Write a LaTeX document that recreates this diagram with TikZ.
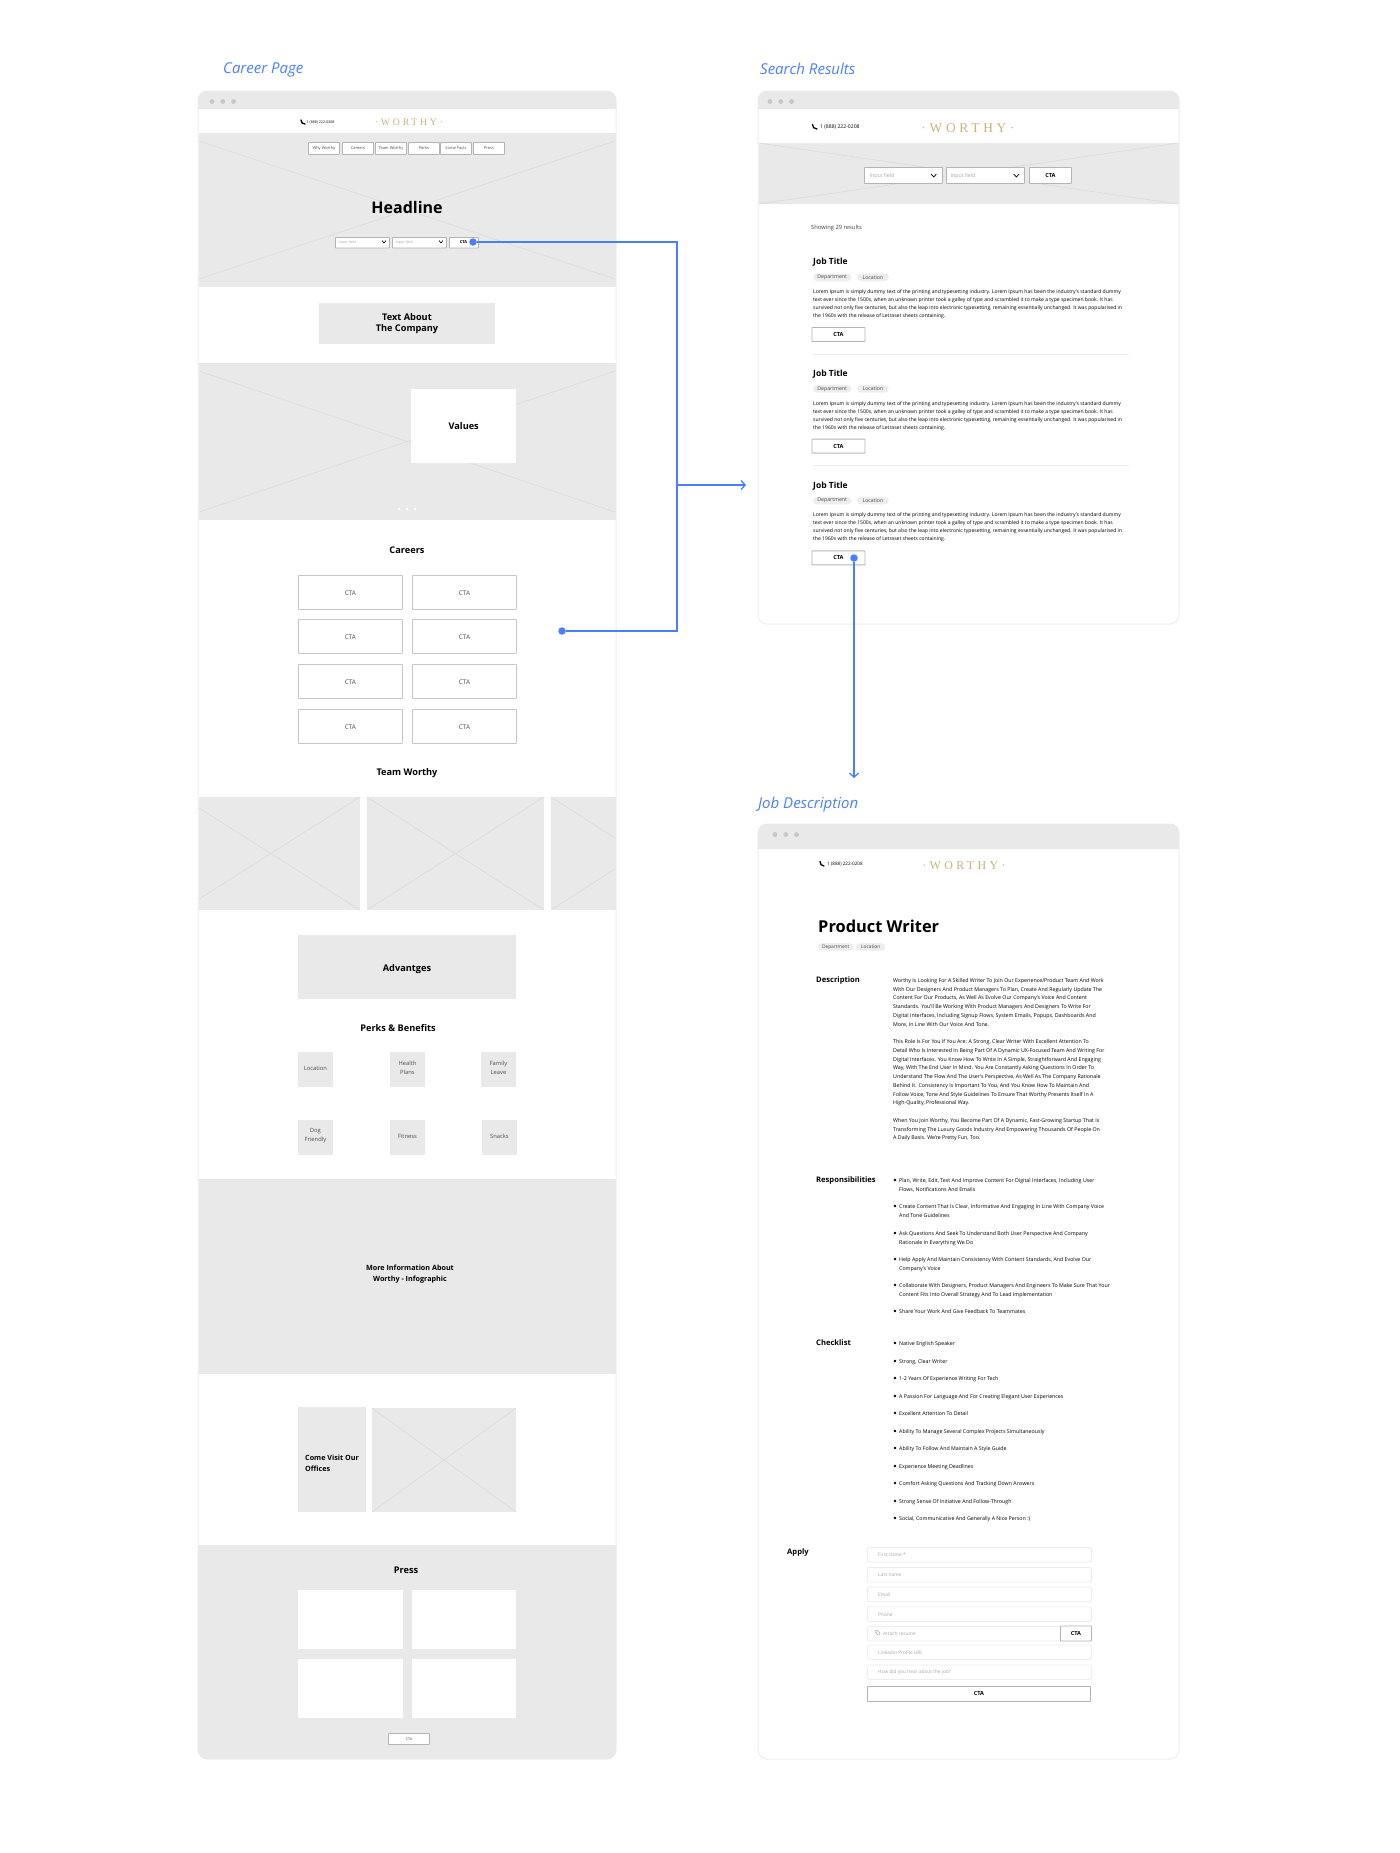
\documentclass[tikz,border=0pt]{standalone}
\usepackage{fontspec}
\usepackage{xcolor}
\usetikzlibrary{arrows.meta}
\setmainfont{Open Sans}
\newfontfamily\logofont[LetterSpace=28]{Liberation Serif}
\definecolor{bargrey}{HTML}{E9E9E9}
\definecolor{linegrey}{HTML}{D9D9D9}
\definecolor{edgegrey}{HTML}{EDEDED}
\definecolor{boxline}{HTML}{B4B4B4}
\definecolor{dotgrey}{HTML}{C6C6C6}
\definecolor{wireblue}{HTML}{4A7DFF}
\definecolor{logogold}{HTML}{C9B27F}
\newcommand{\fsz}[2]{\fontsize{#1}{#2}\selectfont}
\newcommand{\loremtext}{Lorem Ipsum is simply dummy text of the printing and typesetting industry. Lorem Ipsum has been the industry's standard dummy\\
text ever since the 1500s, when an unknown printer took a galley of type and scrambled it to make a type specimen book. It has\\
survived not only five centuries, but also the leap into electronic typesetting, remaining essentially unchanged. It was popularised in\\
the 1960s with the release of Letraset sheets containing.}
\tikzstyle{pagelabel} = [text=wireblue, font=\itshape\fsz{15}{18}, anchor=west, inner sep=0pt]
\tikzstyle{logotext} = [text=logogold, font=\logofont, inner sep=0pt]
\tikzstyle{phonetext} = [font=\fsz{5.1}{6}, anchor=west, inner sep=0pt]
\tikzstyle{greybox} = [fill=bargrey, anchor=north west, inner sep=0pt, align=center]
\tikzstyle{whitebox} = [fill=white, anchor=north west, inner sep=0pt, align=center]
\tikzstyle{outlinebox} = [draw=boxline, fill=white, line width=0.9pt, anchor=north west, inner sep=0pt, rounded corners=0.6pt]
\tikzstyle{fieldbox} = [draw=edgegrey, fill=white, line width=0.9pt, anchor=north west, inner sep=0pt, rounded corners=1.5pt]
\tikzstyle{chip} = [fill=edgegrey, rounded corners=3.5pt, inner sep=0pt, minimum height=7.5pt, anchor=north west, text=black!70, font=\fsz{5.2}{6}]
\tikzstyle{sectitle} = [font=\bfseries\fsz{9.2}{10.8}, align=center, inner sep=0pt]
\tikzstyle{leftitle} = [font=\bfseries\fsz{7.6}{9}, anchor=west, inner sep=0pt]
\tikzstyle{bodytext} = [font=\fsz{5.05}{8}, anchor=north west, align=left, inner sep=0pt]
\tikzstyle{longtext} = [font=\fsz{5.28}{8.75}, anchor=north west, align=left, inner sep=0pt]
\tikzstyle{hint} = [text=black!35, font=\fsz{4.8}{6}, inner sep=0pt]
\tikzstyle{ctatext} = [font=\bfseries\fsz{5.6}{6}]
\tikzstyle{softtext} = [text=black!70, font=\fsz{5.8}{9.3}]
\tikzstyle{crossline} = [draw=linegrey, line width=0.55pt]
\tikzstyle{bulletdot} = [fill=black, circle, inner sep=0pt, minimum size=2.6pt]
\tikzstyle{wire} = [draw=wireblue, line width=1.3pt]
\tikzstyle{wiredot} = [fill=wireblue, circle, inner sep=0pt, minimum size=7.5pt]

\begin{document}
\begin{tikzpicture}[x=1pt, y=-1pt]
\useasboundingbox (0,0) rectangle (1400,1853);

\node [pagelabel] (careerLabel) at (223,70) {Career Page};
\node [pagelabel] (searchLabel) at (760,69) {Search Results};
\node [pagelabel] (jobLabel) at (758,805) {Job Description};

\foreach \lft/\tp/\rgt/\btm/\hd/\dx in {198/91/616/1759/109/212, 758/91/1179/624/109/770, 758/824/1179/1759/849/775}{
    \draw [edgegrey, fill=white, line width=1pt, rounded corners=9pt] (\lft,\tp) rectangle (\rgt,\btm);
    \fill [bargrey] (\lft,\hd) [rounded corners=9pt] -- (\lft,\tp) -- (\rgt,\tp) [sharp corners] -- (\rgt,\hd) -- cycle;
    \foreach \i in {0,1,2}
        \fill [dotgrey] (\dx+\i*10.8,\tp+10.5) circle (2.4pt);
}

% career page
\fill [bargrey] (198.5,133) rectangle (615.5,287);
\fill [bargrey] (198.5,363) rectangle (615.5,520);
\fill [bargrey] (198.5,1179) rectangle (615.5,1374);
\fill [bargrey] (198,1545) -- (616,1545) [rounded corners=9pt] -- (616,1759) -- (198,1759) [sharp corners] -- cycle;
\fill [bargrey] (758.5,143) rectangle (1178.5,204);
\foreach \xa/\ya/\xb/\yb in {199/141/615/279, 199/279/615/141, 199/371/615/512, 199/512/615/371, 758.5/143/1178.5/204, 758.5/204/1178.5/143}
    \draw [crossline] (\xa,\ya) -- (\xb,\yb);

\draw [line width=1.3pt, line cap=round] (301,120) .. controls (301,122.5) and (302.5,124) .. (305,124);
\node [phonetext, font=\fsz{3.6}{4}] (careerPhone) at (306.5,122) {1 (888) 222-0208};
\node [logotext, font=\logofont\fsz{9.8}{10}] (careerLogo) at (409,122.3) {·WORTHY·};

\foreach \nm/\xx/\lbl in {a/308/Why Worthy, b/342/Careers, c/375/Team Worthy, d/408/Perks, e/440/Some Facts, f/473/Press}{
    \node [outlinebox, minimum width=31pt, minimum height=12pt] (nav\nm) at (\xx,142) {};
    \node [softtext, font=\fsz{4}{5}, inner sep=0pt] (navText\nm) at (nav\nm.center) {\lbl};
}

\node [font=\bfseries\fsz{16}{18}, inner sep=0pt] (headline) at (407,207) {Headline};
\node [outlinebox, minimum width=54pt, minimum height=10.5pt] (heroInputA) at (335,237) {};
\node [outlinebox, minimum width=54pt, minimum height=10.5pt] (heroInputB) at (392,237) {};
\node [outlinebox, minimum width=29pt, minimum height=10.5pt] (heroCta) at (449,237) {};
\node [hint, font=\fsz{3.6}{4}, right=3.5pt] (heroHintA) at (heroInputA.west) {Input field};
\node [hint, font=\fsz{3.6}{4}, right=3.5pt] (heroHintB) at (heroInputB.west) {Input field};
\node [ctatext, font=\bfseries\fsz{4}{5}, inner sep=0pt] (heroCtaText) at (463.5,241.8) {CTA};
\draw [line width=0.6pt] (382,240.5) -- (384,243) -- (386,240.5);
\draw [line width=0.6pt] (439,240.5) -- (441,243) -- (443,240.5);

\node [greybox, minimum width=176pt, minimum height=40.5pt] (textBox) at (319,303) {};
\node [sectitle] (textBoxText) at (407,324) {Text About\\The Company};
\node [whitebox, sectitle, anchor=north west, minimum width=105pt, minimum height=74pt] (valuesBox) at (411,389) {Values};
\foreach \xx in {399,407,415}
    \fill [white] (\xx,509) circle (1.5pt);

\node [sectitle] (careersTitle) at (407,550) {Careers};
\foreach \rr/\yy in {a/575,b/619,c/664,d/709}{
    \foreach \cc/\xx in {l/298,r/412}{
        \node [outlinebox, draw=black!22, softtext, font=\fsz{6.4}{7}, text height=6.5pt, text depth=0pt, anchor=north west, minimum width=104pt, minimum height=34pt] (career\rr\cc) at (\xx,\yy) {CTA};
    }
}

\node [sectitle] (teamTitle) at (407,773) {Team Worthy};
\fill [bargrey] (198.5,797) rectangle (360,910);
\fill [bargrey] (367,797) rectangle (544,910);
\fill [bargrey] (551,797) rectangle (615.5,910);
\fill [bargrey] (372,1408) rectangle (516,1512);
\foreach \xa/\ya/\xb/\yb in {199/808/360/910, 199/899/360/797, 367/797/544/910, 367/910/544/797, 551/797/615/838, 551/910/615/869, 372/1408/516/1512, 372/1512/516/1408}
    \draw [crossline] (\xa,\ya) -- (\xb,\yb);

\node [greybox, minimum width=218pt, minimum height=64pt] (advantgesBox) at (298,935) {};
\node [sectitle] (advantgesText) at (407,969) {Advantges};
\node [sectitle] (perksTitle) at (398,1028) {Perks \& Benefits};
\foreach \nm/\xx/\yy/\lbl in {a/298/1052/Location, b/390/1052/Health\\Plans, c/481/1052/Family\\Leave, d/298/1120/Dog\\Friendly, e/390/1120/Fitness, f/482/1120/Snacks}{
    \node [greybox, minimum size=34.5pt] (perk\nm) at (\xx,\yy) {};
    \node [softtext, align=center, inner sep=0pt] (perkText\nm) at ([yshift=1.5pt]perk\nm.center) {\lbl};
}

\node [sectitle, font=\bfseries\fsz{7.2}{10.3}] (infoText) at (410,1274) {More Information About\\Worthy - Infographic};
\node [greybox, minimum width=68pt, minimum height=105pt] (visitBox) at (298,1407) {};
\node [sectitle, font=\bfseries\fsz{7.2}{10.6}, align=left, anchor=west] (visitText) at (305,1463) {Come Visit Our\\Offices};

\node [sectitle] (pressTitle) at (406,1570) {Press};
\node [whitebox, minimum width=105pt, minimum height=58.5pt] (pressA) at (298,1590) {};
\node [whitebox, minimum width=104pt, minimum height=58.5pt] (pressB) at (412,1590) {};
\node [whitebox, minimum width=105pt, minimum height=58.5pt] (pressC) at (298,1659) {};
\node [whitebox, minimum width=104pt, minimum height=58.5pt] (pressD) at (412,1659) {};
\node [outlinebox, minimum width=41pt, minimum height=11pt] (pressCta) at (388,1733) {};
\node [softtext, font=\fsz{3.6}{4}, inner sep=0pt] (pressCtaText) at (pressCta.center) {CTA};

% search results
\draw [line width=1.3pt, line cap=round] (812.5,124.5) .. controls (812.5,127) and (814,129) .. (817,129);
\node [phonetext] (searchPhone) at (820,126.7) {1 (888) 222-0208};
\node [logotext, font=\logofont\fsz{13.4}{14}] (searchLogo) at (968,128) {·WORTHY·};
\node [outlinebox, minimum width=78pt, minimum height=16pt] (searchInputA) at (864,167) {};
\node [outlinebox, minimum width=78pt, minimum height=16pt] (searchInputB) at (946,167) {};
\node [outlinebox, ctatext, anchor=north west, minimum width=42pt, minimum height=16pt] (searchCta) at (1029,167) {CTA};
\node [hint, font=\fsz{5.2}{6}, right=5.5pt] (searchHintA) at ([yshift=-0.8pt]searchInputA.west) {Input field};
\node [hint, font=\fsz{5.2}{6}, right=4.5pt] (searchHintB) at ([yshift=-0.8pt]searchInputB.west) {Input field};
\draw [line width=0.7pt] (931,174) -- (933.7,177) -- (936.4,174);
\draw [line width=0.7pt] (1013.7,174) -- (1016.4,177) -- (1019,174);
\node [phonetext, font=\fsz{5.8}{7}, text=black!75] (showingText) at (811,228) {Showing 29 results};

\foreach \nm/\jy in {a/0, b/111.7, c/223.4}{
    \node [leftitle, font=\bfseries\fsz{8.5}{9}] (jobTitle\nm) at (813,262.3+\jy) {Job Title};
    \node [chip, minimum width=38pt] (jobDept\nm) at (813,273.3+\jy) {Department};
    \node [chip, minimum width=31.5pt] (jobLoc\nm) at (857,273.3+\jy) {Location};
    \node [bodytext] (jobText\nm) at (813,289.5+\jy) {\loremtext};
    \node [outlinebox, ctatext, anchor=north west, minimum width=53pt, minimum height=14pt] (jobCta\nm) at (811.5,327+\jy) {CTA};
}
\draw [edgegrey, line width=0.7pt] (813,354) -- (1129,354);
\draw [edgegrey, line width=0.7pt] (813,465.5) -- (1129,465.5);

% job description
\draw [line width=1.3pt, line cap=round] (820,861.5) .. controls (820,864) and (821.5,866) .. (824,866);
\node [phonetext, font=\fsz{4.6}{5}] (jobPhone) at (827,864.5) {1 (888) 222-0208};
\node [logotext, font=\logofont\fsz{12}{13}] (jobLogo) at (964,865.5) {·WORTHY·};
\node [font=\bfseries\fsz{16.4}{18}, anchor=west, inner sep=0pt] (productTitle) at (818,926.5) {Product Writer};
\node [chip, font=\fsz{4.8}{6}, minimum width=35pt] (productDept) at (818,943) {Department};
\node [chip, font=\fsz{4.8}{6}, minimum width=29pt] (productLoc) at (856,943) {Location};

\node [leftitle] (descTitle) at (816,980.5) {Description};
\node [longtext] (descText) at (893,978.2) {Worthy Is Looking For A Skilled Writer To Join Our Experience/Product Team And Work\\
With Our Designers And Product Managers To Plan, Create And Regularly Update The\\
Content For Our Products, As Well As Evolve Our Company's Voice And Content\\
Standards. You'll Be Working With Product Managers And Designers To Write For\\
Digital Interfaces, Including Signup Flows, System Emails, Popups, Dashboards And\\
More, In Line With Our Voice And Tone.\\[8.75pt]
This Role Is For You If You Are: A Strong, Clear Writer With Excellent Attention To\\
Detail Who Is Interested In Being Part Of A Dynamic UX-Focused Team And Writing For\\
Digital Interfaces. You Know How To Write In A Simple, Straightforward And Engaging\\
Way, With The End User In Mind. You Are Constantly Asking Questions In Order To\\
Understand The Flow And The User's Perspective, As Well As The Company Rationale\\
Behind It. Consistency Is Important To You, And You Know How To Maintain And\\
Follow Voice, Tone And Style Guidelines To Ensure That Worthy Presents Itself In A\\
High-Quality, Professional Way.\\[8.75pt]
When You Join Worthy, You Become Part Of A Dynamic, Fast-Growing Startup That Is\\
Transforming The Luxury Goods Industry And Empowering Thousands Of People On\\
A Daily Basis. We're Pretty Fun, Too.};

\node [leftitle] (respTitle) at (816,1180.5) {Responsibilities};
\foreach \yy/\lbl [count=\n] in {1180/{Plan, Write, Edit, Test And Improve Content For Digital Interfaces, Including User\\Flows, Notifications And Emails},
    1206/{Create Content That Is Clear, Informative And Engaging In Line With Company Voice\\And Tone Guidelines},
    1233/{Ask Questions And Seek To Understand Both User Perspective And Company\\Rationale In Everything We Do},
    1259/{Help Apply And Maintain Consistency With Content Standards, And Evolve Our\\Company's Voice},
    1285/{Collaborate With Designers, Product Managers And Engineers To Make Sure That Your\\Content Fits Into Overall Strategy And To Lead Implementation},
    1311/{Share Your Work And Give Feedback To Teammates}}{
    \node [bulletdot] (respDot\n) at (895,\yy) {};
    \node [longtext] (respText\n) at (899,\yy-1.8) {\lbl};
}

\node [leftitle] (checkTitle) at (816,1343) {Checklist};
\foreach \yy/\lbl [count=\n] in {1343/Native English Speaker, 1361/{Strong, Clear Writer}, 1378/1-2 Years Of Experience Writing For Tech, 1396/A Passion For Language And For Creating Elegant User Experiences, 1413/Excellent Attention To Detail, 1431/Ability To Manage Several Complex Projects Simultaneously, 1448/Ability To Follow And Maintain A Style Guide, 1466/Experience Meeting Deadlines, 1483/Comfort Asking Questions And Tracking Down Answers, 1501/Strong Sense Of Initiative And Follow-Through, 1518/{Social, Communicative And Generally A Nice Person :)}}{
    \node [bulletdot] (checkDot\n) at (895,\yy) {};
    \node [longtext] (checkText\n) at (899,\yy-1.8) {\lbl};
}

\node [leftitle] (applyTitle) at (787,1553) {Apply};
\foreach \nm/\yy/\lbl in {a/1547/First name *, b/1567/Last name, c/1586.5/Email, d/1606.5/Phone, f/1644.5/Linkedin Profile URL, g/1664.5/How did you hear about the job?}{
    \node [fieldbox, minimum width=224pt, minimum height=14.5pt] (field\nm) at (867,\yy) {};
    \node [hint, right=11pt] (fieldText\nm) at (field\nm.west) {\lbl};
}
\node [fieldbox, minimum width=224pt, minimum height=14.5pt] (fieldResume) at (867,1626) {};
\node [hint, right=16pt] (fieldResumeText) at (fieldResume.west) {Attach resume};
\node [draw=black!35, line width=0.5pt, rounded corners=1pt, rotate=-45, inner sep=0pt, minimum width=6pt, minimum height=2.4pt] (clipIcon) at (877.5,1632.5) {};
\node [outlinebox, ctatext, anchor=north west, minimum width=31pt, minimum height=15pt] (resumeCta) at (1060,1625.5) {CTA};
\node [outlinebox, ctatext, anchor=north west, minimum width=223pt, minimum height=15pt] (applyCta) at (867,1686) {CTA};

% connectors
\node [wiredot] (heroDot) at (473,242) {};
\node [wiredot] (careerDot) at (562,631) {};
\node [wiredot] (searchDot) at (854,558) {};
\coordinate (elbowTop) at (677,242);
\coordinate (elbowBottom) at (677,631);
\coordinate (arrowStart) at (677,485);
\coordinate (arrowEnd) at (746,485);
\coordinate (jobEnd) at (854,778);
\draw [wire] (heroDot) -- (elbowTop) -- (elbowBottom) -- (careerDot);
\draw [wire, -{Straight Barb[length=4pt,width=9pt]}] (arrowStart) -- (arrowEnd);
\draw [wire, -{Straight Barb[length=4pt,width=9pt]}] (searchDot) -- (jobEnd);
\end{tikzpicture}
\end{document}
